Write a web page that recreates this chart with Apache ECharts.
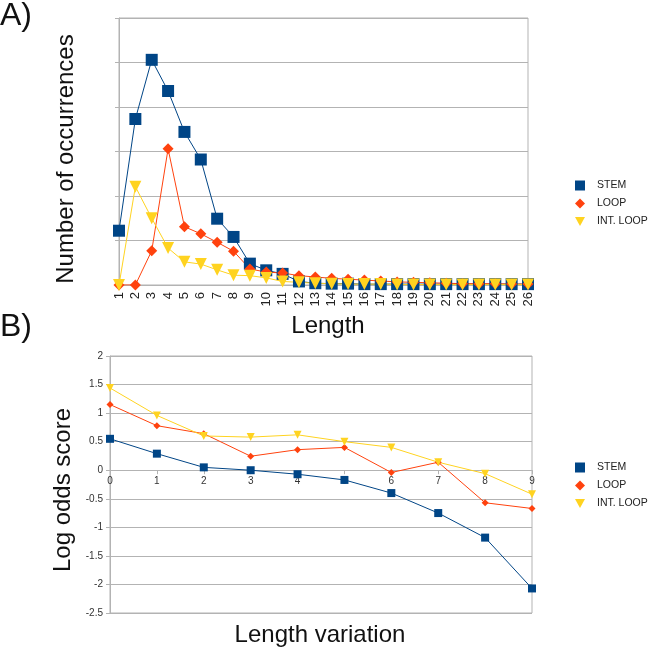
<!DOCTYPE html>
<html><head><meta charset="utf-8">
<script src="https://cdn.jsdelivr.net/npm/echarts@6/dist/echarts.min.js"></script>
<style>html,body{margin:0;padding:0;background:#fff}#c{width:650px;height:649px}</style>
</head><body><div id="c"></div>
<script>
// Panel A data
const lengthCats = ['1','2','3','4','5','6','7','8','9','10','11','12','13','14','15','16','17','18','19','20','21','22','23','24','25','26'];
const stemA = [1.22,3.73,5.06,4.36,3.44,2.82,1.49,1.08,0.48,0.33,0.25,0.08,0.04,0.03,0.03,0.02,0.02,0.02,0.02,0.02,0.02,0.02,0.02,0.02,0.02,0.02];
const loopA = [0,0,0.77,3.06,1.31,1.15,0.96,0.76,0.36,0.29,0.27,0.21,0.18,0.15,0.13,0.11,0.09,0.07,0.06,0.05,0.04,0.03,0.03,0.03,0.02,0.02];
const intLoopA = [0,2.21,1.50,0.83,0.52,0.47,0.34,0.22,0.21,0.16,0.08,0.06,0.04,0.03,0.02,0.02,0.02,0.01,0.01,0.01,0.01,0.01,0.01,0.01,0.01,0.01];
// Panel B data
const variationCats = ['0','1','2','3','4','5','6','7','8','9'];
const stemB = [0.55,0.29,0.05,0.0,-0.07,-0.17,-0.40,-0.75,-1.18,-2.07];
const loopB = [1.15,0.78,0.64,0.245,0.36,0.40,-0.04,0.14,-0.57,-0.67];
const intLoopB = [1.44,0.96,0.60,0.58,0.62,0.50,0.40,0.14,-0.06,-0.42];
const names = ['STEM','LOOP','INT. LOOP'];

const FONT = 'Liberation Sans, Arial, sans-serif';
const C_STEM = '#004586', C_LOOP = '#ff420e', C_INT = '#ffd320';
const GRID = '#b3b3b3';
const triDown = 'path://M0,0 L10,0 L5,9 Z';

const B_TOP = 356, B_H = 257, B_MIN = -2.5, B_MAX = 2;
const zeroOffset = -B_H * (0 - B_MIN) / (B_MAX - B_MIN);

const chart = echarts.init(document.getElementById('c'));
function mkSeries(name, data, color, symbol, size, xi, rot) {
  return {name, type:'line', xAxisIndex:xi, yAxisIndex:xi, data,
    symbol, symbolSize:size, symbolRotate: rot||0, showSymbol:true,
    lineStyle:{color, width:1}, itemStyle:{color}, animation:false, z: 3};
}
function legendData(){
  return [{name:names[0], icon:'rect', itemStyle:{color:C_STEM}},
          {name:names[1], icon:'diamond', itemStyle:{color:C_LOOP}},
          {name:names[2], icon:triDown, itemStyle:{color:C_INT}}];
}
const legendText = {fontSize:10.5, color:'#222', fontFamily:FONT, padding:[0,0,0,7]};
chart.setOption({
  animation:false,
  textStyle:{fontFamily:FONT},
  grid:[
    {left:119, top:18, width:409, height:267, show:true, borderColor:GRID, borderWidth:1},
    {left:110, top:B_TOP, width:422, height:B_H, show:true, borderColor:GRID, borderWidth:1}
  ],
  legend:[
    {orient:'vertical', left:570, top:175, itemWidth:10, itemHeight:10, itemGap:7,
     textStyle:legendText, data:legendData(), selectedMode:false},
    {orient:'vertical', left:570, top:457, itemWidth:10, itemHeight:10, itemGap:7,
     textStyle:legendText, data:legendData(), selectedMode:false}
  ],
  xAxis:[
    {gridIndex:0, type:'category', data:lengthCats, boundaryGap:false,
     axisLine:{lineStyle:{color:GRID}}, axisTick:{show:false},
     axisLabel:{rotate:90, fontSize:13, color:'#222', margin:7, interval:0, fontFamily:FONT}},
    {gridIndex:1, type:'category', data:variationCats, boundaryGap:false, position:'bottom', offset:zeroOffset,
     axisLine:{onZero:false, lineStyle:{color:GRID}}, axisTick:{show:true, alignWithLabel:true, length:4, lineStyle:{color:GRID}},
     axisLabel:{fontSize:10, color:'#333', margin:6, interval:0, fontFamily:FONT}}
  ],
  yAxis:[
    {gridIndex:0, type:'value', min:0, max:6, interval:1,
     axisLine:{show:true, lineStyle:{color:GRID}}, axisTick:{show:true, length:4, lineStyle:{color:GRID}},
     axisLabel:{show:false}, splitLine:{lineStyle:{color:GRID}}},
    {gridIndex:1, type:'value', min:B_MIN, max:B_MAX, interval:0.5,
     axisLine:{show:true, onZero:false, lineStyle:{color:GRID}}, axisTick:{show:true, length:4, lineStyle:{color:GRID}},
     axisLabel:{fontSize:10, color:'#333', margin:7, fontFamily:FONT}, splitLine:{lineStyle:{color:GRID}}}
  ],
  series:[
    mkSeries(names[0], stemA, C_STEM, 'rect', 12, 0),
    mkSeries(names[1], loopA, C_LOOP, 'diamond', 11, 0),
    mkSeries(names[2], intLoopA, C_INT, 'triangle', 12, 0, 180),
    mkSeries(names[0], stemB, C_STEM, 'rect', 8, 1),
    mkSeries(names[1], loopB, C_LOOP, 'diamond', 7, 1),
    mkSeries(names[2], intLoopB, C_INT, 'triangle', 8, 1, 180)
  ],
  graphic:[
    {type:'text', left:0, top:0, style:{text:'A)', fontSize:32, fill:'#111', fontFamily:FONT}},
    {type:'text', left:0, top:311, style:{text:'B)', fontSize:32, fill:'#111', fontFamily:FONT}},
    {type:'text', x:66, y:159, rotation:Math.PI/2, style:{text:'Number of occurrences', fontSize:24, fill:'#111', align:'center', verticalAlign:'middle', fontFamily:FONT}},
    {type:'text', x:328, y:326, style:{text:'Length', fontSize:24, fill:'#111', align:'center', verticalAlign:'middle', fontFamily:FONT}},
    {type:'text', x:63, y:490, rotation:Math.PI/2, style:{text:'Log odds score', fontSize:24, fill:'#111', align:'center', verticalAlign:'middle', fontFamily:FONT}},
    {type:'text', x:320, y:635, style:{text:'Length variation', fontSize:24, fill:'#111', align:'center', verticalAlign:'middle', fontFamily:FONT}}
  ]
});
</script></body></html>
